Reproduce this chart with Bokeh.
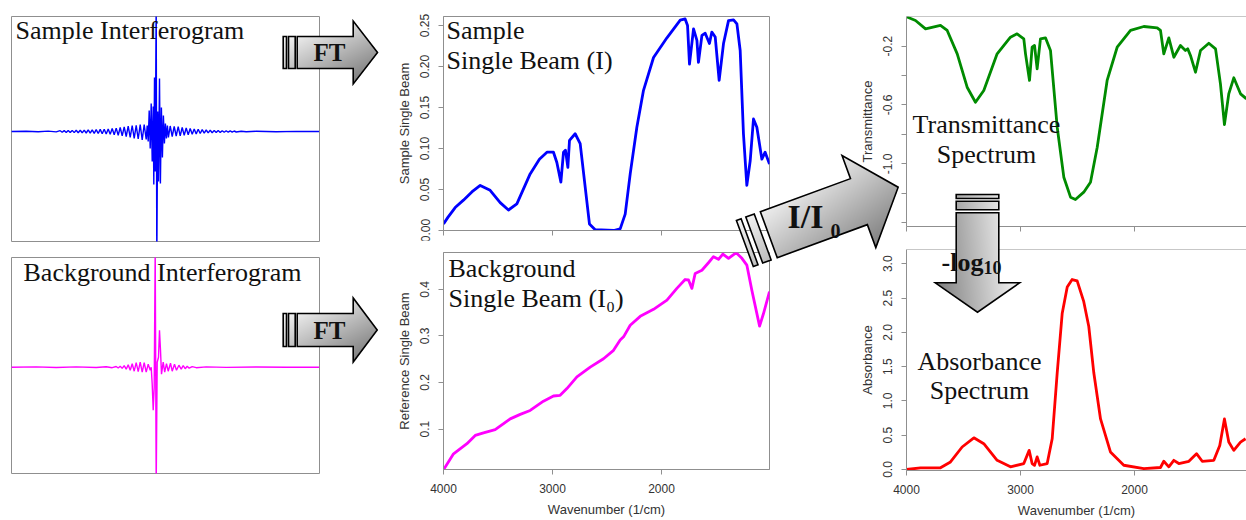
import numpy as np
from bokeh.plotting import figure
from bokeh.layouts import column
from bokeh.models import Range1d, FixedTicker, Span
from bokeh.core.properties import value
from bokeh.embed import file_html
from bokeh.resources import INLINE

W, H = 1246, 520

# ---------------- data ----------------
# interferograms: retardation offset from the centre burst (a.u.) and detector signal (a.u.)
sample_ifg_x = [-145, -130, -118, -108, -100,
                -96, -94, -92, -90, -88, -86, -84, -82, -80, -78, -76, -74, -72, -70, -68, -66,
                -64, -62, -60, -58, -56, -54, -52, -50, -48, -46, -44, -42, -40, -38, -36, -34,
                -32, -30, -28, -26, -24, -22, -20, -18, -16, -14, -12,
                -10, -9, -8, -7, -6, -5, -4, -3, -2.4, -1.7, -1, 0, 0.6, 1.5, 2.3, 3.3, 4.2,
                5.2, 6.2, 7.2, 8.2, 9.2, 10.2, 11.2, 12.2,
                14, 16, 18, 20, 22, 24, 26, 28, 30, 32, 34, 36, 38, 40, 42, 44, 46, 48, 50, 52,
                54, 56, 58, 60, 62, 64, 66, 68, 70, 72, 74, 76, 78, 80, 85, 90, 100, 120, 140, 163]
sample_ifg_y = [0, 0.3, -0.3, 0.4, -0.4,
                0.8, -0.8, 0.9, -0.9, 1.0, -1.0, 1.1, -1.1, 1.2, -1.2, 1.3, -1.3, 1.4, -1.5, 1.6, -1.6,
                1.7, -1.8, 1.9, -2.0, 2.1, -2.2, 2.3, -2.5, 2.6, -2.8, 3.0, -3.2, 3.4, -3.7, 4.0, -4.3,
                4.6, -5.0, 5.3, -5.8, 6.0, -6.8, 6.2, -7.5, 6.8, -8.5, 7.0,
                -8, 6, -10, 21, -17, 28, -30, 25, -53, 54, -40, 135, -135, 20, -50, 53, -52,
                24, -26, 16, -12, 8, -7, 6, -6,
                5.5, -5, 5, -4.5, 4.8, -4.3, 4, -3.8, 3.5, -3.3, 3.0, -2.8, 2.6, -2.4, 2.2, -2.0, 1.8, -1.6, 1.5, -1.4,
                1.3, -1.2, 1.1, -1.0, 0.9, -0.9, 0.8, -0.8, 0.7, -0.7, 0.6, -0.6, 0.5, -0.5, 0.3, -0.3, 0.2, -0.2, 0.1, 0]

bg_ifg_x = [-145, -120, -100, -80, -60, -50, -44, -40, -38, -36, -34, -32, -30, -28, -26, -24, -22,
            -20, -18, -16, -14, -12, -10, -8, -6, -5, -4, -3, -2, -1, 0, 1, 2.3, 3.3, 4.3, 5.3, 7,
            8.5, 10.3, 12, 14.3, 16, 18.3, 20.3, 22.7, 25, 27, 29, 31, 33, 36, 40, 50, 70, 100, 130, 163]
bg_ifg_y = [0, 0.3, -0.3, 0.3, -0.3, 0.4, -0.5, 0.7, -0.8, 1.0, -1.2, 1.5, -2.0, 2.5, -3.0, 3.5, -4.0,
            4.5, -4.5, 5.0, -5.0, 4.5, -5.0, 3.0, -3.0, 0, -17, -43, -20, 120, -120, 5, 10, 37, 17, -7, 5,
            -5, 3.5, -4, 4, -4, 3, -3, 2, -2, 1.5, -1.5, 1, -1, 0.6, -0.5, 0.3, -0.2, 0.2, -0.1, 0]

# single beams, transmittance, absorbance vs wavenumber (1/cm)
sample_wn = [4000, 3960, 3893, 3817, 3740, 3663, 3572, 3480, 3404, 3327, 3205, 3120, 3051, 2991, 2960,
             2923, 2899, 2881, 2859, 2844, 2792, 2746, 2700, 2661, 2608, 2440, 2379, 2333, 2287, 2226,
             2165, 2073, 1950, 1828, 1783, 1761, 1743, 1706, 1675, 1661, 1629, 1599, 1560, 1538, 1507,
             1471, 1431, 1385, 1339, 1308, 1278, 1248, 1217, 1186, 1156, 1125, 1079, 1049, 1009]
sample_sb = [0.008, 0.016, 0.028, 0.037, 0.047, 0.055, 0.049, 0.034, 0.025, 0.0325, 0.069, 0.087, 0.0955, 0.0955, 0.083,
             0.059, 0.0955, 0.098, 0.077, 0.110, 0.118, 0.106, 0.053, 0.008, 0.001, 0.0, 0.002, 0.020, 0.069, 0.126,
             0.171, 0.211, 0.235, 0.2565, 0.258, 0.250, 0.203, 0.246, 0.232, 0.205, 0.238, 0.2405, 0.228, 0.242, 0.236,
             0.183, 0.228, 0.256, 0.257, 0.252, 0.2195, 0.118, 0.055, 0.085, 0.136, 0.126, 0.087, 0.0955, 0.081]

ref_wn = [4000, 3908, 3785, 3709, 3633, 3526, 3388, 3296, 3205, 3083, 2991, 2930, 2868, 2776, 2654,
          2532, 2440, 2379, 2348, 2287, 2195, 2073, 1950, 1859, 1783, 1752, 1721, 1691, 1629, 1569,
          1523, 1477, 1437, 1385, 1315, 1262, 1217, 1171, 1100, 1064, 1009]
ref_sb = [0.0127, 0.047, 0.0686, 0.0865, 0.092, 0.0987, 0.122, 0.1316, 0.140, 0.160, 0.171, 0.1725, 0.187, 0.212, 0.233,
          0.251, 0.269, 0.291, 0.298, 0.323, 0.342, 0.357, 0.3768, 0.402, 0.421, 0.420, 0.402, 0.434, 0.441, 0.457,
          0.470, 0.4643, 0.4757, 0.4665, 0.4785, 0.4665, 0.452, 0.398, 0.321, 0.348, 0.395]

trans_wn = [4000, 3921, 3833, 3702, 3643, 3555, 3468, 3395, 3322, 3205, 3088, 3030, 2971, 2956, 2921,
            2898, 2877, 2854, 2825, 2781, 2737, 2678, 2620, 2561, 2518, 2445, 2386, 2327, 2240, 2152,
            2035, 1918, 1801, 1772, 1743, 1699, 1655, 1597, 1553, 1533, 1509, 1465, 1421, 1348, 1289,
            1246, 1211, 1173, 1129, 1070, 1018]
trans_val = [0.0, -0.025, -0.082, -0.059, -0.093, -0.252, -0.479, -0.581, -0.501, -0.252, -0.139, -0.116, -0.15, -0.252, -0.433,
             -0.207, -0.195, -0.354, -0.15, -0.143, -0.229, -0.751, -1.091, -1.227, -1.243, -1.193, -1.125, -0.887, -0.433, -0.207,
             -0.093, -0.066, -0.075, -0.093, -0.252, -0.143, -0.275, -0.195, -0.229, -0.218, -0.263, -0.377, -0.229, -0.180, -0.218,
             -0.456, -0.733, -0.524, -0.415, -0.524, -0.558]

abs_wn = [4000, 3877, 3702, 3614, 3512, 3409, 3322, 3205, 3088, 2971, 2924, 2898, 2877, 2854, 2830,
          2766, 2722, 2678, 2634, 2590, 2547, 2503, 2445, 2401, 2357, 2298, 2211, 2094, 1918, 1772,
          1743, 1699, 1655, 1611, 1523, 1456, 1406, 1304, 1252, 1211, 1173, 1129, 1070, 1026]
abs_val = [0.0, 0.025, 0.025, 0.11, 0.328, 0.462, 0.376, 0.134, 0.039, 0.087, 0.279, 0.087, 0.06, 0.184, 0.062,
           0.087, 0.448, 1.41, 2.28, 2.66, 2.77, 2.75, 2.447, 2.085, 1.41, 0.737, 0.256, 0.062, 0.014, 0.029,
           0.12, 0.039, 0.134, 0.087, 0.12, 0.231, 0.12, 0.134, 0.351, 0.737, 0.40, 0.279, 0.40, 0.448]

wn_ticks = [4000, 3000, 2000]
wn_labels = ["4000", "3000", "2000"]
sample_ticks = [0.0, 0.05, 0.10, 0.15, 0.20, 0.25]
sample_labels = ["0.00", "0.05", "0.10", "0.15", "0.20", "0.25"]
ref_ticks = [0.1, 0.2, 0.3, 0.4]
ref_labels = ["0.1", "0.2", "0.3", "0.4"]
trans_ticks = [-0.2, -0.4, -0.6, -0.8, -1.0, -1.2, -1.4]
trans_labels = ["-0.2", "", "-0.6", "", "-1.0", "", ""]
abs_ticks = [0.0, 0.5, 1.0, 1.5, 2.0, 2.5, 3.0]
abs_labels = ["0.0", "0.5", "1.0", "1.5", "2.0", "2.5", "3.0"]

# ---------------- styling ----------------
GRAY = "#8f8f8f"
TXT = "#333333"
SANS = "Liberation Sans"
SERIF = "Liberation Serif"


def place(fig, left, top):
    # each figure sits in its own wrapper so that frames are not aligned across figures
    return column(fig, styles={"position": "absolute", "left": f"{left}px", "top": f"{top}px"})


def panel(fw, fh, xr, yr, bl, bt, br, bb, axes=True):
    kw = {}
    if not axes:
        kw = dict(x_axis_location=None, y_axis_location=None)
    p = figure(width=bl + fw + br, height=bt + fh + bb,
               x_range=Range1d(*xr), y_range=Range1d(*yr),
               output_backend="svg", toolbar_location=None, title=None,
               min_border_left=bl, min_border_top=bt, min_border_right=br, min_border_bottom=bb, **kw)
    p.grid.visible = False
    p.outline_line_color = GRAY
    p.outline_line_width = 1
    if axes:
        for ax in p.axis:
            ax.axis_line_color = GRAY
            ax.major_tick_line_color = GRAY
            ax.major_tick_in = 0
            ax.major_tick_out = 5
            ax.minor_tick_line_color = None
            ax.major_label_text_font = SANS
            ax.major_label_text_font_size = "12px"
            ax.major_label_text_color = TXT
            ax.major_label_standoff = 9
            ax.axis_label_text_font = SANS
            ax.axis_label_text_font_size = "13px"
            ax.axis_label_text_font_style = "normal"
            ax.axis_label_text_color = TXT
            ax.axis_label_standoff = 6
        p.yaxis.major_label_orientation = "vertical"
    return p


def set_ticks(axis, ticks, labels):
    axis.ticker = FixedTicker(ticks=ticks)
    axis.major_label_overrides = {t: l for t, l in zip(ticks, labels)}


items = []

# left: interferograms
p1 = panel(308, 225, (-144.7, 163.3), (-110, 115), 1, 1, 1, 1, axes=False)
p1.line(sample_ifg_x, sample_ifg_y, line_color="#0000ff", line_width=1.4)
items.append(place(p1, 10, 15))

p2 = panel(308, 216, (-144.7, 163.3), (-106.3, 109.7), 1, 1, 1, 1, axes=False)
p2.line(bg_ifg_x, bg_ifg_y, line_color="#ff00ff", line_width=1.4)
items.append(place(p2, 10, 256))

# middle: single beams
p3 = panel(326, 214, (4000, 1009), (0.0, 0.261), 60, 16, 2, 30)
p3.line(sample_wn, sample_sb, line_color="#0000ff", line_width=2.8, line_join="round")
set_ticks(p3.xaxis[0], wn_ticks, ["", "", ""])
set_ticks(p3.yaxis[0], sample_ticks, sample_labels)
p3.yaxis.axis_label = "Sample Single Beam"
items.append(place(p3, 383, 0))

p4 = panel(326, 217, (4000, 1009), (0.0133, 0.479), 60, 12, 2, 50)
p4.line(ref_wn, ref_sb, line_color="#ff00ff", line_width=2.8, line_join="round")
set_ticks(p4.xaxis[0], wn_ticks, wn_labels)
set_ticks(p4.yaxis[0], ref_ticks, ref_labels)
p4.yaxis.axis_label = "Reference Single Beam"
p4.xaxis.axis_label = "Wavenumber (1/cm)"
items.append(place(p4, 383, 240))

# right: transmittance and absorbance (frames run past the right edge)
p5 = panel(340, 210, (4000, 1017.5), (-1.4265, 0.002), 60, 16, 0, 30)
p5.outline_line_color = None
p5.add_layout(Span(location=0.002, dimension="width", line_color=GRAY, line_width=1))
p5.line(trans_wn, trans_val, line_color="#008b00", line_width=2.8, line_join="round")
set_ticks(p5.xaxis[0], wn_ticks, ["", "", ""])
set_ticks(p5.yaxis[0], trans_ticks, trans_labels)
p5.yaxis.axis_label = "Transmittance"
items.append(place(p5, 846, 0))

p6 = panel(340, 223, (4000, 1017.5), (-0.0145, 3.208), 60, 12, 0, 48)
p6.outline_line_color = None
p6.add_layout(Span(location=3.208, dimension="width", line_color=GRAY, line_width=1))
p6.line(abs_wn, abs_val, line_color="#ff0000", line_width=2.8, line_join="round")
set_ticks(p6.xaxis[0], wn_ticks, wn_labels)
set_ticks(p6.yaxis[0], abs_ticks, abs_labels)
p6.yaxis.axis_label = "Absorbance"
p6.xaxis.axis_label = "Wavenumber (1/cm)"
items.append(place(p6, 846, 237))

# ---------------- overlay: arrows and captions ----------------
ov = figure(width=W, height=H, x_range=Range1d(0, W), y_range=Range1d(0, H),
            output_backend="svg", toolbar_location=None, title=None,
            x_axis_location=None, y_axis_location=None,
            min_border=0, min_border_left=0, min_border_right=0, min_border_top=0, min_border_bottom=0,
            background_fill_color=None, border_fill_color=None)
ov.grid.visible = False
ov.outline_line_color = None

# arrow specs: tail centre (px, y down), angle (deg, ccw), body half width, head base, head half width, tip, tail bands
arrows = [
    dict(tail=(296.7, 52.0), ang=0.0, bh=16.0, hu=56.0, hh=31.5, tu=80.3,
         bands=[(-14.0, -10.7), (-8.7, -2.0)], g=(0.45, -0.9)),
    dict(tail=(296.7, 329.5), ang=0.0, bh=16.5, hu=56.0, hh=32.0, tu=80.0,
         bands=[(-14.0, -10.7), (-8.7, -2.0)], g=(0.45, -0.9)),
    dict(tail=(768.3, 234.2), ang=20.15, bh=24.5, hu=96.0, hh=49.0, tu=137.8,
         bands=[(-25.5, -20.5), (-15.5, -6.5)], g=(0.6, -0.8)),
    dict(tail=(977.0, 212.3), ang=-90.0, bh=21.3, hu=70.0, hh=42.2, tu=99.4,
         bands=[(-18.3, -14.3), (-11.6, -3.0)], g=(-1.0, -0.1)),
]
LIGHT = np.array([246, 246, 246], float)
DARK = np.array([128, 128, 128], float)


def arrow_polys(a):
    ang = np.radians(a["ang"])
    ux, uy = np.cos(ang), np.sin(ang)
    nx, ny = -uy, ux
    tx, ty = a["tail"][0], H - a["tail"][1]

    def P(u, v):
        return (tx + u * ux + v * nx, ty + u * uy + v * ny)
    bh, hu, hh, tu = a["bh"], a["hu"], a["hh"], a["tu"]
    shaft = [P(0, -bh), P(hu, -bh), P(hu, -hh), P(tu, 0), P(hu, hh), P(hu, bh), P(0, bh)]
    bands = [[P(u0, -bh), P(u1, -bh), P(u1, bh), P(u0, bh)] for (u0, u1) in a["bands"]]
    return [shaft] + bands


def inside(X, Y, poly):
    res = np.zeros(X.shape, bool)
    n = len(poly)
    j = n - 1
    for i in range(n):
        xi, yi = poly[i]
        xj, yj = poly[j]
        if yi != yj:
            xc = (xj - xi) * (Y - yi) / (yj - yi) + xi
            res ^= ((yi > Y) != (yj > Y)) & (X < xc)
        j = i
    return res


for a in arrows:
    polys = arrow_polys(a)
    allx = [q[0] for pl in polys for q in pl]
    ally = [q[1] for pl in polys for q in pl]
    x0, x1 = int(np.floor(min(allx))) - 1, int(np.ceil(max(allx))) + 1
    y0, y1 = int(np.floor(min(ally))) - 1, int(np.ceil(max(ally))) + 1
    X, Y = np.meshgrid(np.arange(x0, x1) + 0.5, np.arange(y0, y1) + 0.5)
    mask = np.zeros(X.shape, bool)
    for pl in polys:
        mask |= inside(X, Y, pl)
    gx, gy = a["g"]
    t = X * gx + Y * gy
    tmin, tmax = t[mask].min(), t[mask].max()
    t = np.clip((t - tmin) / (tmax - tmin), 0, 1)
    rgba = np.zeros(X.shape + (4,), np.uint8)
    for k in range(3):
        rgba[..., k] = (LIGHT[k] + (DARK[k] - LIGHT[k]) * t).astype(np.uint8)
    rgba[..., 3] = np.where(mask, 255, 0).astype(np.uint8)
    img = np.ascontiguousarray(rgba).view(np.uint32).reshape(X.shape)
    ov.image_rgba(image=[img], x=x0, y=y0, dw=x1 - x0, dh=y1 - y0)
    ov.patches([[q[0] for q in pl] for pl in polys], [[q[1] for q in pl] for pl in polys],
               fill_color=None, line_color="black", line_width=1.6, line_join="miter")

# captions: (x, baseline in px from top, text, size, bold, align)
captions = [
    (15, 40, "Sample Interferogram", 26, False, "left"),
    (23, 282, "Background Interferogram", 26, False, "left"),
    (446, 40, "Sample", 26, False, "left"),
    (446, 70, "Single Beam (I)", 26, False, "left"),
    (448, 278, "Background", 26, False, "left"),
    (448, 308, "Single Beam (I\u2080)", 26, False, "left"),
    (986, 134, "Transmittance", 26, False, "center"),
    (986, 164, "Spectrum", 26, False, "center"),
    (979, 371, "Absorbance", 26, False, "center"),
    (979, 400, "Spectrum", 26, False, "center"),
    (329, 62, "FT", 25, True, "center"),
    (329, 340, "FT", 25, True, "center"),
    (787, 230, "I/I", 34, True, "left"),
    (830, 238, "0", 20, True, "left"),
    (941, 272, "-log", 26, True, "left"),
    (983, 274, "10", 18, True, "left"),
]
BASE_SHIFT = 0.4  # the renderer sets "alphabetic" text ~0.4 em below its anchor
for (cx, cb, s, size, bold, align) in captions:
    ov.text(x=[cx], y=[H - cb + BASE_SHIFT * size], text=[s], text_font=value(SERIF),
            text_font_size=f"{size}px", text_font_style="bold" if bold else "normal",
            text_color="#111111", text_align=align, text_baseline="alphabetic")

items.append(place(ov, 0, 0))

root = column(*items, width=W, height=H, sizing_mode="fixed",
              styles={"position": "relative"})

open("out.html", "w").write(file_html(root, INLINE))
